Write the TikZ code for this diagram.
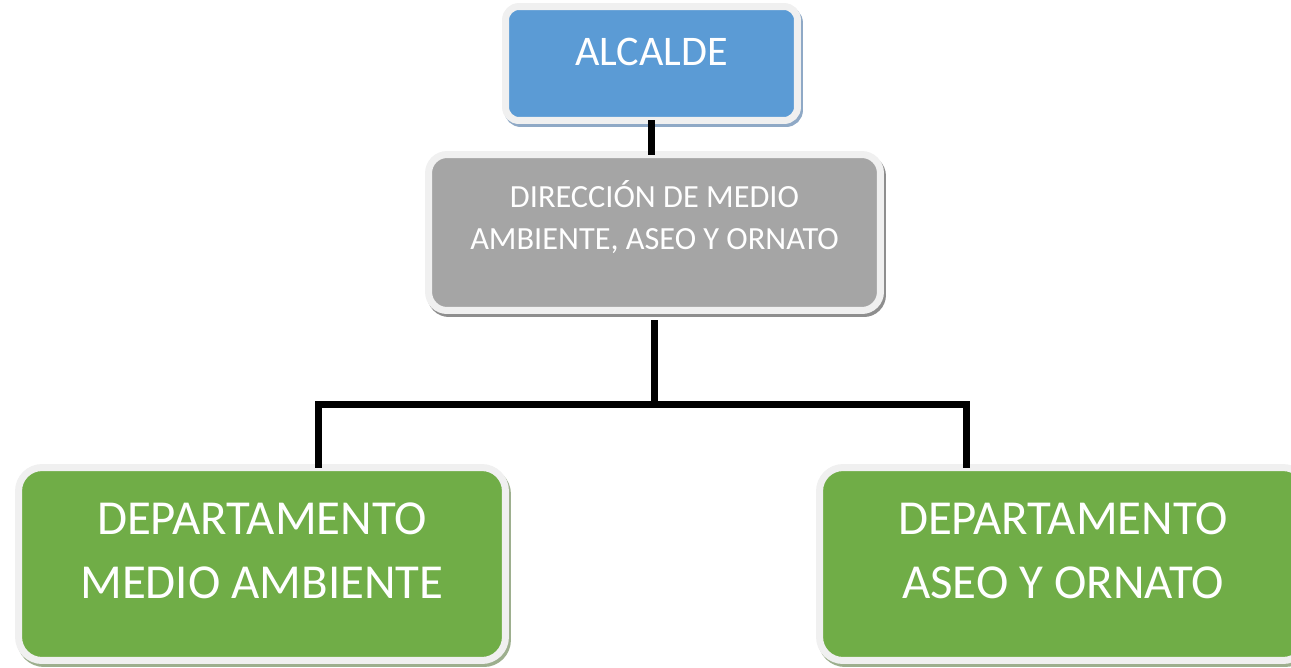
\documentclass[tikz,border=0pt]{standalone}
\usepackage{fontspec}
\setmainfont{Carlito}
\usetikzlibrary{shadows}

\definecolor{azulcaja}{HTML}{5B9BD5}
\definecolor{griscaja}{HTML}{A5A5A5}
\definecolor{verdecaja}{HTML}{70AD47}
\definecolor{bordecaja}{HTML}{F0F0F0}
\definecolor{sombraazul}{HTML}{8FA9C6}
\definecolor{sombragris}{HTML}{8E8E8E}
\definecolor{sombraverde}{HTML}{9DAF8E}

\tikzset{
  caja/.style={draw=bordecaja, line width=0.14cm, text=white, align=center,
    inner sep=0pt, outer sep=0pt,
    drop shadow={shadow xshift=0.04cm, shadow yshift=-0.06cm, draw=#1,
      fill=#1, line width=0.14cm, opacity=1}},
  conector/.style={line width=0.14cm, black},
}

\begin{document}
\begin{tikzpicture}[x=0.02cm, y=-0.02cm]
  \clip (0,0) rectangle (1291,667);

  % cajas
  \node[caja=sombraazul, fill=azulcaja, rounded corners=0.27cm,
    minimum width=5.84cm, minimum height=2.28cm, text depth=0.48cm,
    font=\fontsize{24}{28}\selectfont] (alc) at (651.5,63.5) {ALCALDE};

  \node[caja=sombragris, fill=griscaja, rounded corners=0.37cm,
    minimum width=9.04cm, minimum height=3.12cm, text depth=0.7cm,
    font=\fontsize{18.4}{24.4}\selectfont] (dir) at (654.5,232.5)
    {DIRECCIÓN DE MEDIO\\AMBIENTE, ASEO Y ORNATO};

  \node[caja=sombraverde, fill=verdecaja, rounded corners=0.47cm,
    minimum width=9.74cm, minimum height=3.86cm, text depth=0.52cm,
    font=\fontsize{27.8}{36.3}\selectfont] (depma) at (262,564)
    {DEPARTAMENTO\\MEDIO AMBIENTE};

  \node[caja=sombraverde, fill=verdecaja, rounded corners=0.47cm,
    minimum width=9.74cm, minimum height=3.86cm, text depth=0.52cm,
    font=\fontsize{27.8}{36.3}\selectfont] (depao) at (1063,564)
    {DEPARTAMENTO\\ASEO Y ORNATO};

  % lineas
  \coordinate (ramaiz) at (318,404);
  \coordinate (ramader) at (966,404);

  \draw[conector] (alc.south) -- (alc.south |- dir.north);
  \draw[conector] ([yshift=-0.2cm]dir.south) -- (dir.south |- ramaiz);
  \draw[conector] (ramaiz |- depma.north) -- (ramaiz) -- (ramader) -- (ramader |- depao.north);
\end{tikzpicture}
\end{document}
